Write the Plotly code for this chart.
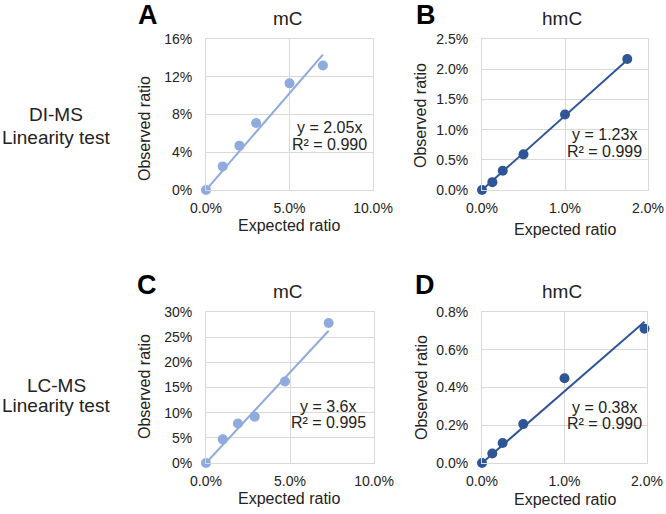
import plotly.graph_objects as go

W, H = 666, 514

# ---- data (percent units) ----
a_expected = [0, 1, 2, 3, 5, 7]
a_observed = [0, 2.5, 4.7, 7.1, 11.3, 13.2]
b_expected = [0, 0.125, 0.25, 0.5, 1.0, 1.75]
b_observed = [0, 0.13, 0.32, 0.59, 1.25, 2.17]
c_expected = [0, 1, 1.9, 2.9, 4.7, 7.3]
c_observed = [0, 4.7, 7.85, 9.2, 16.2, 27.8]
d_expected = [0, 0.125, 0.25, 0.5, 1.0, 1.97]
d_observed = [0, 0.05, 0.106, 0.206, 0.449, 0.711]
slopes = [2.05, 1.23, 3.6, 0.38]
equations = ["y = 2.05x", "y = 1.23x", "y = 3.6x", "y = 0.38x"]
r2_labels = ["R² = 0.990", "R² = 0.999", "R² = 0.995", "R² = 0.990"]
panel_letters = ["A", "B", "C", "D"]
panel_titles = ["mC", "hmC", "mC", "hmC"]
row_labels = [["DI-MS", "Linearity test"], ["LC-MS", "Linearity test"]]
x_ranges = [[0, 10], [0, 2], [0, 10], [0, 2]]
x_dticks = [5, 1, 5, 1]
y_ranges = [[0, 16], [0, 2.5], [0, 30], [0, 0.8]]
y_dticks = [4, 0.5, 5, 0.2]
x_formats = [".1f", ".1f", ".1f", ".1f"]
y_formats = [".0f", ".1f", ".0f", ".1f"]

LIGHT = "#8FAADC"
DARK = "#2F5597"
colors = [LIGHT, DARK, LIGHT, DARK]
FONT = "Liberation Sans, Arial, sans-serif"
TXT = "#222222"
GRID = "#D9D9D9"

def px(x):
    return x / W

def py(y):
    return 1 - y / H

# plot areas in pixels: (left, right, top, bottom)
areas = [(206, 373, 39, 190), (482, 648, 39, 190),
         (206, 374, 312, 463), (482, 647, 312, 463)]

datasets = [(a_expected, a_observed), (b_expected, b_observed),
            (c_expected, c_observed), (d_expected, d_observed)]

fig = go.Figure()
layout = dict(
    template="none",
    width=W, height=H, margin=dict(l=0, r=0, t=0, b=0, pad=0),
    paper_bgcolor="white", plot_bgcolor="white", showlegend=False,
    font=dict(family=FONT, color=TXT),
)

annotations = []
for i, ((xs, ys), (l, r, t, b)) in enumerate(zip(datasets, areas)):
    n = i + 1
    xa = "x" if n == 1 else f"x{n}"
    ya = "y" if n == 1 else f"y{n}"
    xmax = max(xs)
    fig.add_trace(go.Scatter(
        x=[0, xmax], y=[0, slopes[i] * xmax], mode="lines",
        line=dict(color=colors[i], width=2), xaxis=xa, yaxis=ya,
        hoverinfo="skip"))
    fig.add_trace(go.Scatter(
        x=xs, y=ys, mode="markers",
        marker=dict(color=colors[i], size=10, line=dict(width=0)), xaxis=xa, yaxis=ya,
        cliponaxis=False))
    common = dict(showgrid=True, gridcolor=GRID, gridwidth=1, zeroline=False,
                  showline=True, linecolor=GRID, linewidth=1, mirror=True,
                  automargin=False,
                  ticks="outside", tickcolor="rgba(0,0,0,0)",
                  tickfont=dict(size=14, color=TXT, family=FONT))
    layout["xaxis" if n == 1 else f"xaxis{n}"] = dict(
        common, domain=[px(l), px(r)], range=x_ranges[i], dtick=x_dticks[i],
        tick0=0, tickformat=x_formats[i], ticksuffix="%", ticklen=5,
        anchor=ya)
    layout["yaxis" if n == 1 else f"yaxis{n}"] = dict(
        common, domain=[py(b), py(t)], range=y_ranges[i], dtick=y_dticks[i],
        tick0=0, tickformat=y_formats[i], ticksuffix="%", ticklen=10,
        anchor=xa)

# text positions (pixel centers)
letter_pos = [(148, 15), (426, 15), (147, 285), (425, 285)]
title_pos = [(288, 19), (562, 19), (288, 291), (562, 291)]
ytitle_pos = [(144, 129), (421, 116), (144, 387), (421, 388)]
xtitle_pos = [(289, 225), (565, 230), (289, 498), (565, 499)]
eq_pos = [(329, 127, 144), (604, 135, 151), (328, 406, 422), (604, 407, 423)]

for i in range(4):
    annotations.append(dict(x=px(letter_pos[i][0]), y=py(letter_pos[i][1]),
                            xref="paper", yref="paper", text=f"<b>{panel_letters[i]}</b>",
                            showarrow=False, font=dict(size=27, color="black", family=FONT),
                            xanchor="center", yanchor="middle"))
    annotations.append(dict(x=px(title_pos[i][0]), y=py(title_pos[i][1]),
                            xref="paper", yref="paper", text=panel_titles[i],
                            showarrow=False, font=dict(size=19, color=TXT, family=FONT),
                            xanchor="center", yanchor="middle"))
    annotations.append(dict(x=px(ytitle_pos[i][0]), y=py(ytitle_pos[i][1]),
                            xref="paper", yref="paper", text="Observed ratio",
                            textangle=-90, showarrow=False,
                            font=dict(size=16, color=TXT, family=FONT),
                            xanchor="center", yanchor="middle"))
    annotations.append(dict(x=px(xtitle_pos[i][0]), y=py(xtitle_pos[i][1]),
                            xref="paper", yref="paper", text="Expected ratio",
                            showarrow=False, font=dict(size=16, color=TXT, family=FONT),
                            xanchor="center", yanchor="middle"))
    ex, ey1, ey2 = eq_pos[i]
    annotations.append(dict(x=px(ex), y=py(ey1), xref="paper", yref="paper",
                            text=equations[i], showarrow=False,
                            font=dict(size=16, color=TXT, family=FONT),
                            xanchor="center", yanchor="middle"))
    annotations.append(dict(x=px(ex), y=py(ey2), xref="paper", yref="paper",
                            text=r2_labels[i], showarrow=False,
                            font=dict(size=16, color=TXT, family=FONT),
                            xanchor="center", yanchor="middle"))

row_label_pos = [(56, 115, 138), (56, 385, 405)]
for (l1, l2), (rx, ry1, ry2) in zip(row_labels, row_label_pos):
    for txt, yy in ((l1, ry1), (l2, ry2)):
        annotations.append(dict(x=px(rx), y=py(yy), xref="paper", yref="paper",
                                text=txt, showarrow=False,
                                font=dict(size=19, color=TXT, family=FONT),
                                xanchor="center", yanchor="middle"))

layout["annotations"] = annotations
fig.update_layout(**layout)
fig.write_html(
    "out.html",
    config={"displayModeBar": False},
    post_script="document.body.style.margin='0';document.body.style.overflow='hidden';",
)
